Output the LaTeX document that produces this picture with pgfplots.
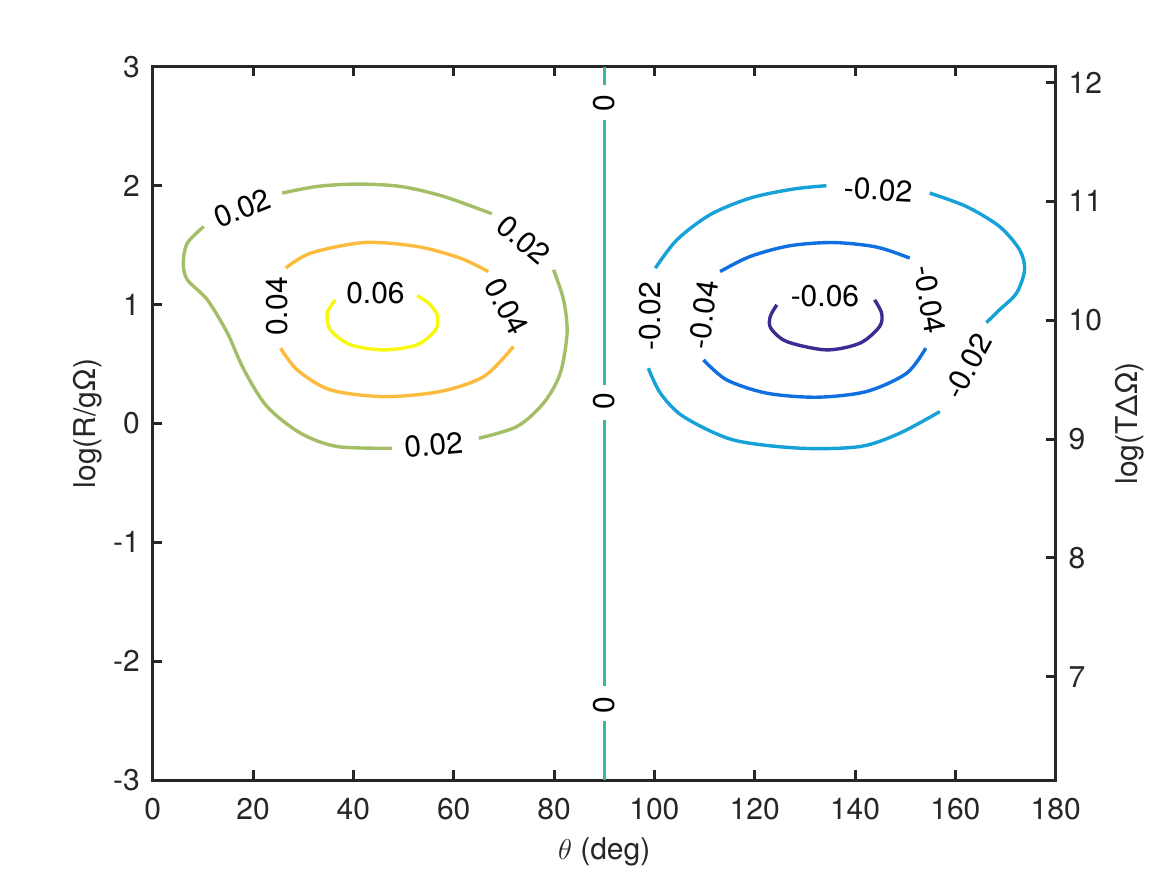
\documentclass[border=0pt]{standalone}
\usepackage{pgfplots}
\pgfplotsset{compat=1.18}
\usepackage{fontspec}
\setmainfont{TeX Gyre Heros}
\definecolor{axgray}{HTML}{262626}
\definecolor{cm6}{RGB}{58,44,145}
\definecolor{cm4}{RGB}{16,112,225}
\definecolor{cm2}{RGB}{22,162,216}
\definecolor{cz}{RGB}{52,184,158}
\definecolor{cp2}{RGB}{164,190,104}
\definecolor{cp4}{RGB}{252,187,61}
\definecolor{cp6}{RGB}{246,248,13}
\begin{document}
\begin{tikzpicture}
\fontsize{15}{18}\selectfont
\path[use as bounding box] (-76.35pt,-47.5pt) rectangle (507.15pt,390pt);
\begin{axis}[
  at={(0,0)}, anchor=south west,
  scale only axis, width=451.5pt, height=356.65pt,
  xmin=0, xmax=180, ymin=-3, ymax=3,
  xtick={0,20,...,180},
  xticklabels={0,20,40,60,80,100,120,140,160,180},
  ytick={-3,-2,-1,0,1,2,3},
  yticklabels={-3,-2,-1,0,1,2,3},
  xtick pos=both, ytick pos=left,
  tick align=inside,
  major tick length=4.8pt,
  axis line style={axgray, line width=1.5pt},
  major tick style={axgray, line width=1.5pt},
  tick label style={font=\fontsize{15}{18}\selectfont, text=axgray},
  xticklabel style={yshift=-4pt},
  yticklabel style={xshift=-1.3pt},
  label style={font=\fontsize{15}{18}\selectfont, text=axgray},
  xlabel={$\theta$ (deg)},
  xlabel style={at={(axis description cs:0.5,-0.101)}, anchor=center},
  ylabel={log(R/gΩ)},
  ylabel style={at={(axis description cs:-0.0717,0.5)}, anchor=center, rotate=0},
  clip=false,
]
% 0.02 contour
\addplot[cp2, line width=1.7pt, smooth] coordinates {(10.2,1.656) (6.9,1.516) (6.1,1.348) (6.9,1.208) (10.9,1.039) (14.9,0.759) (18.2,0.450) (22.8,0.141) (29.5,-0.083) (36.8,-0.195) (47.7,-0.209)};
\addplot[cp2, line width=1.7pt, smooth] coordinates {(65.0,-0.125) (72.6,-0.027) (77.9,0.170) (81.2,0.416) (82.6,0.759) (81.9,1.039) (79.9,1.292)};
\addplot[cp2, line width=1.7pt, smooth] coordinates {(25.8,1.937) (32.8,1.993) (40.8,2.013) (49.4,1.993) (58.0,1.909) (67.6,1.763)};
% 0.04 contour
\addplot[cp4, line width=1.7pt, smooth] coordinates {(26.5,1.306) (31.5,1.432) (42.1,1.521) (52.7,1.488) (61.3,1.390) (66.9,1.277)};
\addplot[cp4, line width=1.7pt, smooth] coordinates {(25.5,0.633) (28.8,0.450) (35.4,0.282) (46.1,0.225) (57.3,0.268) (66.0,0.394) (71.9,0.646)};
% 0.06 contour
\addplot[cp6, line width=1.7pt, smooth] coordinates {(36.4,1.039) (34.8,0.927) (35.4,0.787) (39.4,0.661) (46.1,0.618) (52.7,0.661) (56.4,0.787) (56.7,0.913) (55.0,1.011) (52.7,1.073)};
% 0 contour
\addplot[cz, line width=1.7pt] coordinates {(90,3) (90,2.849)};
\addplot[cz, line width=1.7pt] coordinates {(90,2.554) (90,0.324)};
\addplot[cz, line width=1.7pt] coordinates {(90,0.029) (90,-2.209)};
\addplot[cz, line width=1.7pt] coordinates {(90,-2.504) (90,-3)};
% -0.02 contour
\addplot[cm2, line width=1.7pt, smooth] coordinates {(100.2,1.306) (104.5,1.544) (111.1,1.755) (119.1,1.895) (127.7,1.971) (134.3,1.999)};
\addplot[cm2, line width=1.7pt, smooth] coordinates {(154.9,1.937) (162.2,1.824) (168.8,1.656) (172.8,1.460) (173.8,1.292) (172.2,1.096) (168.8,0.955) (166.2,0.848)};
\addplot[cm2, line width=1.7pt, smooth] coordinates {(98.8,0.464) (101.2,0.254) (105.8,0.057) (115.7,-0.139) (129.0,-0.209) (141.0,-0.195) (148.9,-0.083) (156.9,0.099)};
% -0.04 contour
\addplot[cm4, line width=1.7pt, smooth] coordinates {(113.1,1.277) (119.1,1.404) (127.0,1.494) (135.7,1.521) (144.3,1.483) (150.9,1.390)};
\addplot[cm4, line width=1.7pt, smooth] coordinates {(109.8,0.534) (114.4,0.366) (122.4,0.254) (132.4,0.220) (142.3,0.268) (150.3,0.422) (154.1,0.633)};
% -0.06 contour
\addplot[cm6, line width=1.7pt, smooth] coordinates {(124.4,0.997) (123.1,0.899) (123.2,0.801) (126.4,0.688) (134.3,0.618) (141.0,0.675) (144.9,0.815) (145.3,0.927) (143.9,1.039)};
% labels
\begin{scope}[every node/.style={font=\fontsize{15}{18}\selectfont, text=black, inner sep=0pt, anchor=center}]
\node[rotate=22] at (axis cs:17.9,1.811) {0.02};
\node[rotate=-40] at (axis cs:73.9,1.544) {0.02};
\node[rotate=5] at (axis cs:56.0,-0.181) {0.02};
\node[rotate=90] at (axis cs:24.7,0.983) {0.04};
\node[rotate=-62] at (axis cs:70.6,0.983) {0.04};
\node at (axis cs:44.4,1.096) {0.06};
\node[rotate=90] at (axis cs:90,2.694) {0};
\node[rotate=90] at (axis cs:90,0.183) {0};
\node[rotate=90] at (axis cs:90,-2.369) {0};
\node[rotate=90] at (axis cs:99.2,0.899) {-0.02};
\node[rotate=-3] at (axis cs:144.6,1.965) {-0.02};
\node[rotate=62] at (axis cs:162.5,0.478) {-0.02};
\node[rotate=82] at (axis cs:109.8,0.913) {-0.04};
\node[rotate=-80] at (axis cs:154.9,1.039) {-0.04};
\node at (axis cs:134.0,1.067) {-0.06};
\end{scope}
\end{axis}
\begin{axis}[
  at={(0,0)}, anchor=south west,
  scale only axis, width=451.5pt, height=356.65pt,
  xmin=0, xmax=180, ymin=6.132, ymax=12.132,
  axis x line=none, axis y line*=right,
  ytick={7,8,9,10,11,12},
  yticklabels={7,8,9,10,11,12},
  tick align=inside,
  major tick length=4.8pt,
  axis line style={axgray, line width=1.5pt},
  major tick style={axgray, line width=1.5pt},
  tick label style={font=\fontsize{15}{18}\selectfont, text=axgray},
  yticklabel style={xshift=1.3pt},
  label style={font=\fontsize{15}{18}\selectfont, text=axgray},
  ylabel={log(TΔΩ)},
  ylabel style={at={(axis description cs:1.0823,0.5)}, anchor=center},
]
\end{axis}
\end{tikzpicture}
\end{document}
